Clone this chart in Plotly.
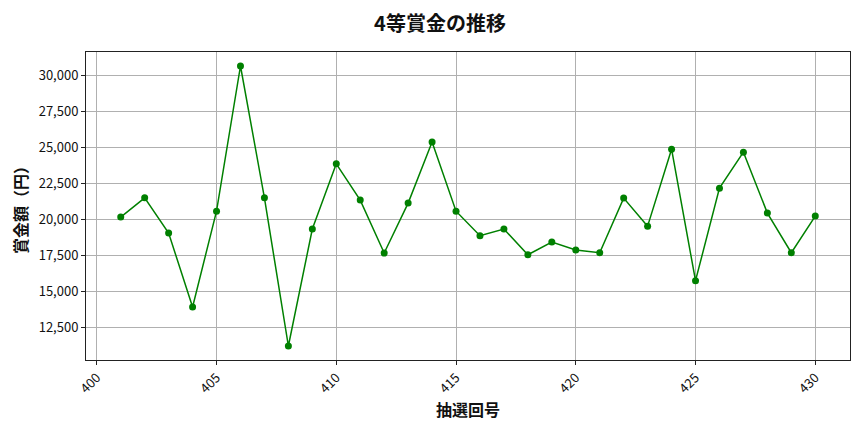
import plotly.graph_objects as go

draws = list(range(401, 431))
prizes = [20140, 21480, 19030, 13890, 20550, 30640, 21480, 11180, 19310, 23840,
          21320, 17640, 21110, 25360, 20550, 18840, 19310, 17520, 18400, 17850,
          17660, 21460, 19510, 24860, 15720, 22150, 24650, 20420, 17660, 20210]

x_ticks = [400, 405, 410, 415, 420, 425, 430]
y_ticks = [12500, 15000, 17500, 20000, 22500, 25000, 27500, 30000]

FONT = "Noto Sans CJK JP"

fig = go.Figure(go.Scatter(
    x=draws, y=prizes, mode="lines+markers",
    line=dict(color="#008000", width=1.5),
    marker=dict(color="#008000", size=7),
))

axis_common = dict(
    showgrid=True, gridcolor="#b0b0b0", gridwidth=0.8,
    showline=True, linecolor="#222222", linewidth=1, mirror=True,
    ticks="outside", ticklen=4, tickcolor="#222222",
    tickfont=dict(family=FONT, size=13, color="#111111"),
    zeroline=False, automargin=False,
)

fig.update_layout(
    width=864, height=432,
    margin=dict(l=78, r=22, t=44, b=80),
    paper_bgcolor="white", plot_bgcolor="white",
    showlegend=False,
    title=dict(text="<b>4等賞金の推移</b>", x=0.5, xanchor="center", y=0.963, yanchor="middle",
               font=dict(family=FONT, size=20, color="#111111")),
    xaxis=dict(axis_common, range=[399.55, 431.45], tickvals=x_ticks,
               ticktext=[str(v) for v in x_ticks], tickangle=-45,
               title=dict(text="<b>抽選回号</b>", font=dict(family=FONT, size=16, color="#111111"), standoff=7)),
    yaxis=dict(axis_common, range=[10207, 31613], tickvals=y_ticks,
               ticktext=[f"{v:,}" for v in y_ticks],
               title=dict(text="<b>賞金額（円）</b>", font=dict(family=FONT, size=16, color="#111111"), standoff=12)),
)

fig.write_html("out.html")
